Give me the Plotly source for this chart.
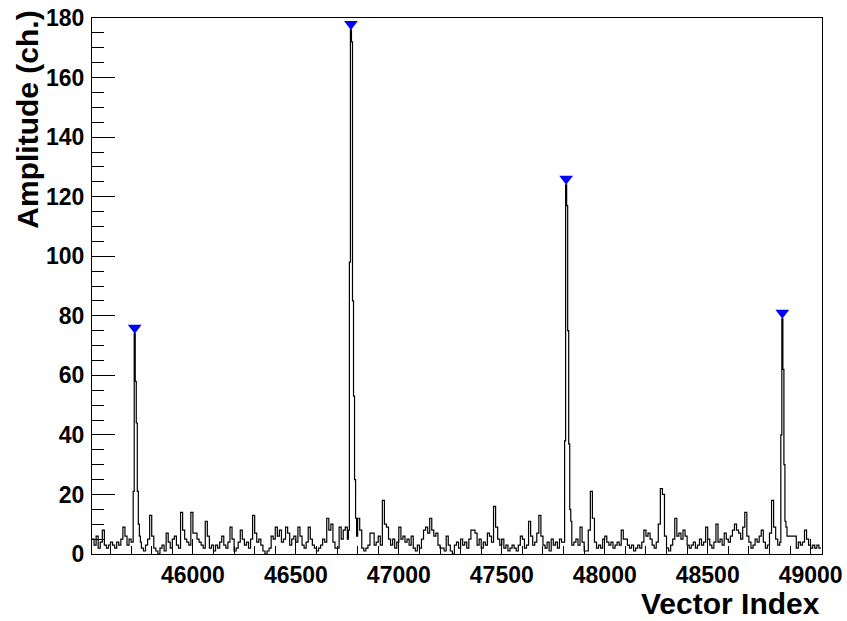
import plotly.graph_objects as go

# Baseline counts, 10-index bins starting at 45510 (None = bin covered by a peak profile)
NOISE_START = 45510
NOISE_STEP = 10
noise_counts = [
    5, 3, 6, 2, 4, 8, 3, 2, 3, 4,
    3, 2, 4, 3, 5, 9, 6, 3, 5, 4,
    None, None, None, None, 2, 1, 3, 5, 13, 6,
    2, 1, 0, 2, 3, 1, 7, 4, 2, 5,
    6, 3, 2, 14, 8, 5, 4, 3, 14, 7,
    7, 5, 4, 3, 2, 11, 6, 2, 3, 1,
    3, 2, 4, 6, 3, 2, 4, 9, 5, 1,
    2, 4, 8, 5, 3, 4, 2, 5, 13, 7,
    4, 5, 3, 1, 0, 1, 2, 6, 5, 9,
    6, 8, 4, 5, 9, 7, 3, 5, 6, 4,
    9, 6, 3, 2, 4, 9, 5, 3, 2, 1,
    2, 3, 5, 4, 12, 8, 10, 4, 2, 2,
    9, 5, 8, 9, None, None, None, None, None, 12,
    8, 2, 1, 2, 3, 7, 7, 3, 4, 6,
    3, 18, 10, 9, 5, 3, 5, 2, 4, 9,
    5, 6, 4, 5, 3, 6, 2, 1, 3, 2,
    5, 8, 9, 7, 12, 8, 6, 7, 3, 2,
    2, 1, 6, 3, 1, 0, 3, 4, 2, 5,
    3, 4, 2, 5, 8, 8, 7, 3, 5, 2,
    4, 3, 7, 6, 4, 16, 9, 5, 3, 5,
    2, 3, 1, 2, 3, 2, 1, 3, 6, 5,
    2, 3, 11, 6, 3, 4, 7, 13, 6, 3,
    2, 4, 1, 5, 3, 4, 2, 5, 4, None,
    None, None, None, 3, 4, 5, 3, 9, 4, 1,
    1, 8, 21, 12, 4, 2, 3, 2, 5, 6,
    4, 3, 4, 2, 3, 4, 3, 8, 5, 5,
    3, 2, 3, 1, 2, 3, 2, 4, 8, 6,
    7, 5, 3, 2, 4, 10, 22, 20, 6, 2,
    1, 3, 5, 12, 6, 7, 5, 8, 6, 3,
    2, 3, 4, 2, 3, 5, 3, 4, 9, 5,
    3, 2, 4, 10, 4, 5, 3, 7, 5, 4,
    6, 8, 10, 8, 7, 5, 9, 14, 6, 4,
    2, 3, 5, 4, 6, 8, 4, 2, 3, 7,
    18, 9, 5, 3, None, None, None, None, 6, 6,
    6, 6, 2, 4, 3, 4, 8, 5, 3, 2,
    3, 2, 3, 2,
]

# Peak profiles, 5-index bins
PEAK_STEP = 5
peak_starts = [45710, 46750, 47800, 48850]
peak1_counts = [21, 74, 58, 44, 21, 10, 6, 4]
peak2_counts = [5, 8, 98, 176, 172, 85, 53, 25, 12, 6]
peak3_counts = [4, 38, 124, 117, 75, 37, 15, 11]
peak4_counts = [4, 40, 79, 62, 30, 11, 9, 6]
peak_profiles = [peak1_counts, peak2_counts, peak3_counts, peak4_counts]

X_RANGE = [45510, 49055]
Y_RANGE = [0, 180]
x_tick_vals = [46000, 46500, 47000, 47500, 48000, 48500, 49000]
y_tick_vals = [0, 20, 40, 60, 80, 100, 120, 140, 160, 180]

# Collect bins as (left edge, width, content)
bins = []
for i, v in enumerate(noise_counts):
    if v is not None:
        bins.append((NOISE_START + i * NOISE_STEP, NOISE_STEP, v))
for start, counts in zip(peak_starts, peak_profiles):
    for j, v in enumerate(counts):
        bins.append((start + j * PEAK_STEP, PEAK_STEP, v))
bins.sort(key=lambda b: b[0])

step_x = [b[0] for b in bins] + [bins[-1][0] + bins[-1][1]]
step_y = [b[2] for b in bins] + [bins[-1][2]]

# Peak markers sit on the highest bin of each profile
marker_x, marker_y = [], []
for start, counts in zip(peak_starts, peak_profiles):
    k = counts.index(max(counts))
    marker_x.append(start + (k + 0.5) * PEAK_STEP)
    marker_y.append(max(counts) + 2)

fig = go.Figure()
fig.add_trace(go.Scatter(
    x=step_x, y=step_y, mode="lines", line_shape="hv",
    line=dict(color="black", width=1.2), hoverinfo="skip", showlegend=False,
))
fig.add_trace(go.Scatter(
    x=marker_x, y=marker_y, mode="markers",
    marker=dict(symbol="triangle-down", size=12, color="#0000ff", line=dict(width=0)),
    showlegend=False, cliponaxis=False,
))

tick_font = dict(family="Liberation Sans, Arial, sans-serif", size=23, color="black", weight="bold")
title_font = dict(family="Liberation Sans, Arial, sans-serif", size=30, color="black", weight="bold")

fig.update_layout(
    width=847, height=621,
    margin=dict(l=92, r=25, t=18, b=67),
    paper_bgcolor="white", plot_bgcolor="white",
    xaxis=dict(
        range=X_RANGE, tickvals=x_tick_vals, tickformat="d", ticks="inside", ticklen=15,
        tickcolor="black", tickwidth=1, automargin=False,
        minor=dict(dtick=100, tick0=46000, ticks="inside", ticklen=8, tickcolor="black"),
        showline=True, linecolor="black", linewidth=1, mirror=True,
        showgrid=False, zeroline=False, tickfont=tick_font, ticklabelstandoff=0,
    ),
    yaxis=dict(
        range=Y_RANGE, tickvals=y_tick_vals, ticks="inside", ticklen=23,
        tickcolor="black", tickwidth=1, automargin=False,
        minor=dict(dtick=5, tick0=0, ticks="inside", ticklen=12, tickcolor="black"),
        showline=True, linecolor="black", linewidth=1, mirror=True,
        showgrid=False, zeroline=False, tickfont=tick_font, ticklabelstandoff=2,
    ),
    annotations=[
        dict(text="Vector Index", xref="paper", yref="paper", x=1.0, y=-0.093,
             xanchor="right", yanchor="middle", showarrow=False, font=title_font),
        dict(text="Amplitude (ch.)", xref="paper", yref="paper", x=-0.088, y=1.017,
             xanchor="center", yanchor="top", textangle=-90, showarrow=False, font=title_font),
    ],
)

fig.write_html("out.html")
